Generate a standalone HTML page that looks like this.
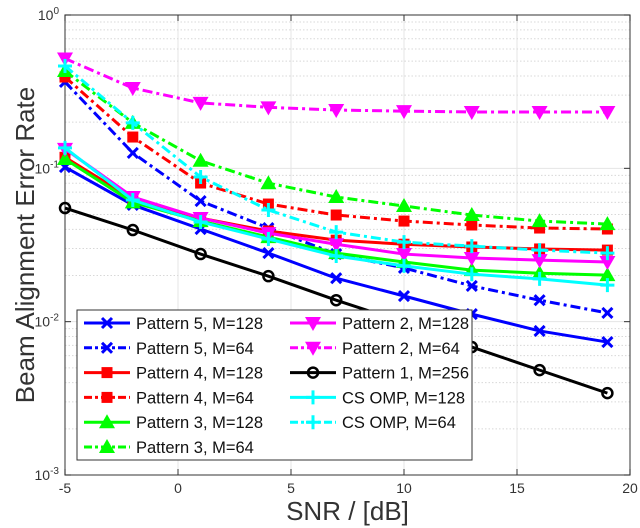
<!DOCTYPE html>
<html><head><meta charset="utf-8"><style>
body{margin:0;background:#fff}
svg{display:block;font-family:"Liberation Sans",sans-serif}
</style></head><body>
<svg id="chart" width="640" height="528"></svg>
<script>
const snr=[-5,-2,1,4,7,10,13,16,19];
const p5_128=[0.102,0.0577,0.0402,0.028,0.0192,0.0147,0.0112,0.0087,0.00736];
const p5_64=[0.366,0.126,0.0612,0.0408,0.0276,0.0224,0.0171,0.0138,0.0114];
const p4_128=[0.118,0.063,0.0474,0.039,0.034,0.032,0.0307,0.0298,0.0293];
const p4_64=[0.394,0.16,0.0802,0.0585,0.0496,0.0453,0.0427,0.0408,0.0402];
const p3_128=[0.115,0.06,0.0453,0.0356,0.028,0.0245,0.0217,0.0207,0.0201];
const p3_64=[0.431,0.198,0.112,0.08,0.065,0.0568,0.0496,0.0453,0.0433];
const p2_128=[0.134,0.065,0.0474,0.0378,0.032,0.0276,0.026,0.0252,0.0245];
const p2_64=[0.52,0.334,0.267,0.25,0.24,0.236,0.233,0.233,0.233];
const p1_256=[0.0551,0.0396,0.0276,0.0198,0.0138,0.0099,0.00683,0.00483,0.00342];
const cs_128=[0.136,0.0621,0.0447,0.0346,0.0268,0.0231,0.0204,0.019,0.0173];
const cs_64=[0.465,0.198,0.0878,0.0535,0.0384,0.033,0.0311,0.0293,0.028];
const xTicks=[-5,0,5,10,15,20];
const yDecades=[0,-1,-2,-3];

const NS="http://www.w3.org/2000/svg";
const svg=document.getElementById('chart');
const L=65,R=630,T=15,B=475;
const X=v=>L+(v+5)/25*(R-L);
const Y=v=>T+(-Math.log10(v))/3*(B-T);
function el(t,a,p){const e=document.createElementNS(NS,t);for(const k in a)e.setAttribute(k,a[k]);(p||svg).appendChild(e);return e;}

const grid=el('g',{});


xTicks.forEach(t=>{el('line',{x1:X(t),x2:X(t),y1:T,y2:B,stroke:'#e4e4e4','stroke-width':1},grid);});
for(let d=0;d<3;d++){for(let m=1;m<10;m++){const v=Math.pow(10,-d-1)*m;const y=Y(v);
 el('line',{x1:L,x2:R,y1:y,y2:y,stroke:m==1?'#e4e4e4':'#d8d8d8','stroke-width':1,'stroke-dasharray':m==1?'':'1.5,2'},grid);}}
el('rect',{x:L,y:T,width:R-L,height:B-T,fill:'none',stroke:'#555','stroke-width':1.2});
const ax=el('g',{});


xTicks.forEach(t=>{el('line',{x1:X(t),x2:X(t),y1:B,y2:B-6,stroke:'#333'},ax);el('line',{x1:X(t),x2:X(t),y1:T,y2:T+6,stroke:'#333'},ax);
 const tx=el('text',{x:X(t),y:B+18,'text-anchor':'middle','font-size':14,fill:'#333'},ax);tx.textContent=t;});
const ay=el('g',{});


yDecades.forEach(d=>{const y=Y(Math.pow(10,d));el('line',{x1:L,x2:L+6,y1:y,y2:y,stroke:'#333'},ay);el('line',{x1:R,x2:R-6,y1:y,y2:y,stroke:'#333'},ay);
 const tx=el('text',{x:L-6,y:y+5,'text-anchor':'end','font-size':14,fill:'#333'},ay);
 tx.innerHTML='10<tspan dy="-6" font-size="10">'+d+'</tspan>';});
const xt=el('text',{x:(L+R)/2,y:520,'text-anchor':'middle','font-size':26,fill:'#333'});xt.textContent='SNR / [dB]';


const yt=el('text',{x:0,y:0,'text-anchor':'middle','font-size':26,fill:'#333',transform:'translate(34,'+(T+B)/2+') rotate(-90)'});yt.textContent='Beam Alignment Error Rate';



function marker(type,x,y,c,g){
 if(type=='x'){el('path',{d:`M${x-5},${y-5}L${x+5},${y+5}M${x-5},${y+5}L${x+5},${y-5}`,stroke:c,'stroke-width':3},g);}
 else if(type=='s'){el('rect',{x:x-5.5,y:y-5.5,width:11,height:11,fill:c},g);}
 else if(type=='^'){el('path',{d:`M${x},${y-8}L${x+8},${y+6}L${x-8},${y+6}Z`,fill:c},g);}
 else if(type=='v'){el('path',{d:`M${x},${y+8}L${x+8},${y-6}L${x-8},${y-6}Z`,fill:c},g);}
 else if(type=='o'){el('circle',{cx:x,cy:y,r:5,fill:'none',stroke:c,'stroke-width':2.5},g);}
 else if(type=='+'){el('path',{d:`M${x-7},${y}L${x+7},${y}M${x},${y-7}L${x},${y+7}`,stroke:c,'stroke-width':3},g);}
}
const DD='10,4,3,4';
const series=[
 ['pattern5-m128',p5_128,'#0000ff','x','','Pattern 5, M=128'],
 ['pattern5-m64',p5_64,'#0000ff','x',DD,'Pattern 5, M=64'],
 ['pattern4-m128',p4_128,'#ff0000','s','','Pattern 4, M=128'],
 ['pattern4-m64',p4_64,'#ff0000','s',DD,'Pattern 4, M=64'],
 ['pattern3-m128',p3_128,'#00ff00','^','','Pattern 3, M=128'],
 ['pattern3-m64',p3_64,'#00ff00','^',DD,'Pattern 3, M=64'],
 ['pattern2-m128',p2_128,'#ff00ff','v','','Pattern 2, M=128'],
 ['pattern2-m64',p2_64,'#ff00ff','v',DD,'Pattern 2, M=64'],
 ['pattern1-m256',p1_256,'#000000','o','','Pattern 1, M=256'],
 ['csomp-m128',cs_128,'#00ffff','+','','CS OMP, M=128'],
 ['csomp-m64',cs_64,'#00ffff','+',DD,'CS OMP, M=64']
];
series.forEach(s=>{
 const g=el('g',{});
 
 
 const pts=snr.map((x,i)=>X(x)+','+Y(s[1][i])).join(' ');
 el('polyline',{points:pts,fill:'none',stroke:s[2],'stroke-width':3,'stroke-dasharray':s[4]},g);
 snr.forEach((x,i)=>marker(s[3],X(x),Y(s[1][i]),s[2],g));
});
// legend (column-major, 6 rows)
const lg=el('g',{});


el('rect',{x:77,y:310,width:395,height:150,fill:'#fff',stroke:'#333','stroke-width':1},lg);
series.forEach((s,i)=>{
 const col=i<6?0:1, row=i<6?i:i-6;
 const bx=col?290:84, y=323+row*24.8;
 const e=el('g',{},lg);
 
 
 el('line',{x1:bx,x2:bx+46,y1:y,y2:y,stroke:s[2],'stroke-width':3,'stroke-dasharray':s[4]?'8,3,3,3':''},e);
 marker(s[3],bx+23,y,s[2],e);
 const t=el('text',{x:bx+52,y:y+6,'font-size':16.5,fill:'#111'},e);t.textContent=s[5];
});
</script>
</body></html>
